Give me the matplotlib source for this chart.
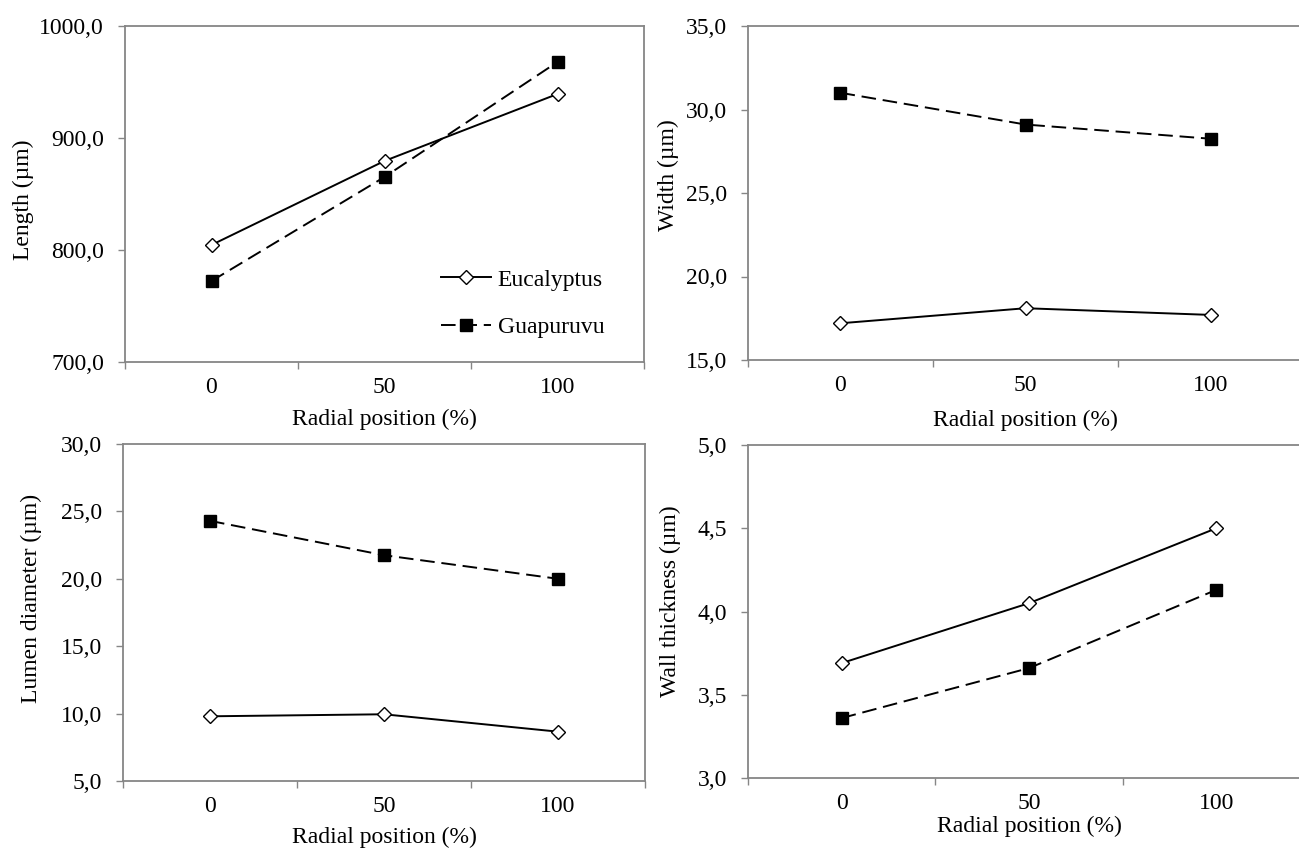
import matplotlib
matplotlib.use("Agg")
import matplotlib.pyplot as plt
from matplotlib.ticker import FuncFormatter, FixedLocator, MultipleLocator

# ---------------- data ----------------
positions = ["0", "50", "100"]
series_names = ["Eucalyptus", "Guapuruvu"]

eucalyptus_length = [804.5, 879.5, 939.3]
guapuruvu_length = [772.3, 865.2, 967.9]

eucalyptus_width = [17.2, 18.1, 17.7]
guapuruvu_width = [31.0, 29.1, 28.25]

eucalyptus_lumen = [9.8, 9.95, 8.66]
guapuruvu_lumen = [24.3, 21.75, 20.0]

eucalyptus_wall = [3.69, 4.05, 4.5]
guapuruvu_wall = [3.36, 3.66, 4.13]

y_labels = ["Length (µm)", "Width (µm)", "Lumen diameter (µm)", "Wall thickness (µm)"]
x_label = "Radial position (%)"

# ---------------- style ----------------
plt.rcParams["font.family"] = ["Liberation Serif", "DejaVu Serif"]
plt.rcParams["font.size"] = 17

W, H = 1299, 848
fig = plt.figure(figsize=(W / 100, H / 100), dpi=100)

GRAY = "#868686"


def rect(l, t, r, b):
    return [l / W, 1 - b / H, (r - l) / W, (b - t) / H]


panels = [
    dict(r=(125, 26, 644, 362), ylim=(700, 1000), step=100,
         e=eucalyptus_length, g=guapuruvu_length, yl=y_labels[0], ylc=(23, 200),
         xlc=419, legend=True),
    dict(r=(748, 26, 1303, 360), ylim=(15, 35), step=5,
         e=eucalyptus_width, g=guapuruvu_width, yl=y_labels[1], ylc=(668, 175),
         xlc=420, legend=False),
    dict(r=(123, 444, 645, 781), ylim=(5, 30), step=5,
         e=eucalyptus_lumen, g=guapuruvu_lumen, yl=y_labels[2], ylc=(31, 598),
         xlc=837, legend=False),
    dict(r=(748, 445, 1310, 778), ylim=(3, 5), step=0.5,
         e=eucalyptus_wall, g=guapuruvu_wall, yl=y_labels[3], ylc=(670, 601),
         xlc=826, legend=False),
]

fmt = FuncFormatter(lambda v, p: f"{v:.1f}".replace(".", ","))

for i, p in enumerate(panels):
    ax = fig.add_axes(rect(*p["r"]))
    x = list(range(len(positions)))
    ax.plot(x, p["e"], color="black", lw=1.4, marker="D", markersize=7,
            markerfacecolor="white", markeredgecolor="black", markeredgewidth=1.0,
            label=series_names[0], zorder=3)
    ax.plot(x, p["g"], color="black", lw=1.4, dashes=(7.5, 3.5), marker="s",
            markersize=8, markerfacecolor="black", markeredgecolor="black",
            label=series_names[1], zorder=3)

    ax.set_xlim(-0.5, len(positions) - 0.5)
    ax.set_ylim(*p["ylim"])
    ax.yaxis.set_major_locator(MultipleLocator(p["step"]))
    ax.yaxis.set_major_formatter(fmt)

    ax.set_xticks(x)
    ax.set_xticklabels(positions)
    ax.xaxis.set_minor_locator(FixedLocator([k - 0.5 for k in range(len(positions) + 1)]))
    ax.tick_params(axis="x", which="major", length=0, pad=11)
    ax.tick_params(axis="x", which="minor", length=5, width=1.0, color=GRAY, direction="out")
    ax.tick_params(axis="y", which="major", length=5, width=1.0, color=GRAY, direction="out", pad=10)
    ax.tick_params(axis="y", which="minor", length=0)

    for s in ax.spines.values():
        s.set_color(GRAY)
        s.set_linewidth(1.3)

    ax.set_ylabel(p["yl"], va="center", ha="center")
    ax.yaxis.set_label_coords(p["ylc"][0] / W, 1 - p["ylc"][1] / H, transform=fig.transFigure)
    ax.set_xlabel(x_label, va="center", ha="center")
    ax.xaxis.set_label_coords(0.5, 1 - p["xlc"] / H,
                              transform=matplotlib.transforms.blended_transform_factory(ax.transAxes, fig.transFigure))

    if p["legend"]:
        l, t, r, b = p["r"]
        ax.legend(loc="upper left", frameon=False, borderpad=0, borderaxespad=0,
                  handlelength=2.1, handletextpad=0.3, labelspacing=1.1,
                  bbox_to_anchor=((441 - l) / (r - l), (b - 269) / (b - t)))

fig.savefig("out.png", dpi=100)
